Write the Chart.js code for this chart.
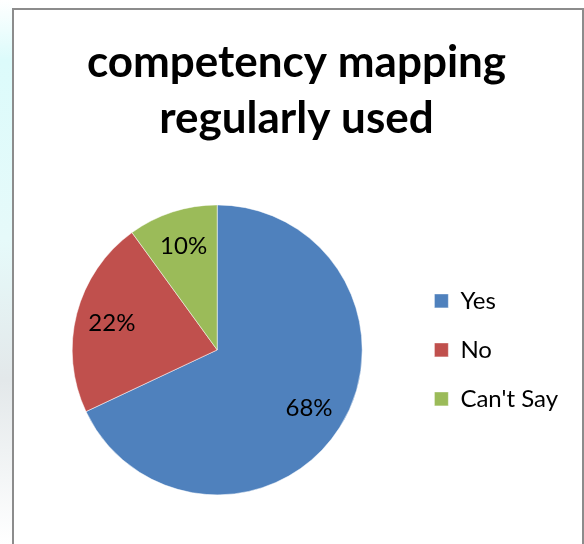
<!DOCTYPE html>
<html>
<head>
<meta charset="utf-8">
<script src="https://cdn.jsdelivr.net/npm/chart.js@4"></script>
<style>
  html, body { margin: 0; padding: 0; background: #fff; }
  body { width: 584px; height: 544px; position: relative; overflow: hidden; }
  .strip { position: absolute; left: 0; top: 0; width: 12px; height: 544px;
           background: linear-gradient(#ffffff 0px, #dcfbfb 60px, #e6fafa 240px, #e3e8ea 380px, #ffffff 544px); }
  .frame { position: absolute; left: 12px; top: 8px; width: 568px; height: 540px;
           border: 2px solid #8c8c8c; border-bottom: none; background: #fff; }
  .frame canvas { display: block; }
</style>
</head>
<body>
<div class="strip"></div>
<div class="frame">
  <canvas id="mapChart" width="568" height="536"></canvas>
</div>
<script>
// pie: competency mapping regularly used
var labels = ["Yes", "No", "Can't Say"];
var values = [68, 22, 10];
var sliceColors = ["#4F81BD", "#C0504D", "#9BBB59"];

// percent text inside each slice
var sliceLabels = {
  id: "sliceLabels",
  afterDatasetsDraw: function (chart) {
    var ctx = chart.ctx;
    var meta = chart.getDatasetMeta(0);
    var total = values.reduce(function (a, b) { return a + b; }, 0);
    ctx.save();
    ctx.font = "24px Lato";
    ctx.fillStyle = "#000";
    ctx.textAlign = "center";
    ctx.textBaseline = "middle";
    meta.data.forEach(function (arc, i) {
      var p = arc.getProps(["x", "y", "startAngle", "endAngle", "outerRadius"], true);
      var mid = (p.startAngle + p.endAngle) / 2;
      var r = p.outerRadius * 0.75;
      var pct = Math.round(values[i] / total * 100) + "%";
      ctx.fillText(pct, p.x + Math.cos(mid) * r, p.y + Math.sin(mid) * r);
    });
    ctx.restore();
  }
};

new Chart("mapChart", {
  type: "pie",
  data: {
    labels: labels,
    datasets: [{
      data: values,
      backgroundColor: sliceColors,
      borderColor: "#ffffff",
      borderWidth: 0.5,
      radius: 145
    }]
  },
  options: {
    responsive: false,
    animation: false,
    layout: { padding: { left: 11, right: 14, bottom: 50 } },
    plugins: {
      title: {
        display: true,
        text: ["competency mapping", "regularly used"],
        color: "#000",
        font: { family: "Lato", size: 44, weight: "bold", lineHeight: 1.27 },
        padding: { top: 25, bottom: 57 }
      },
      legend: {
        position: "right",
        fullSize: false,
        labels: {
          boxWidth: 14,
          boxHeight: 14,
          padding: 25,
          color: "#000",
          font: { family: "Lato", size: 24 }
        }
      },
      tooltip: { enabled: false }
    }
  },
  plugins: [sliceLabels]
});
</script>
</body>
</html>
